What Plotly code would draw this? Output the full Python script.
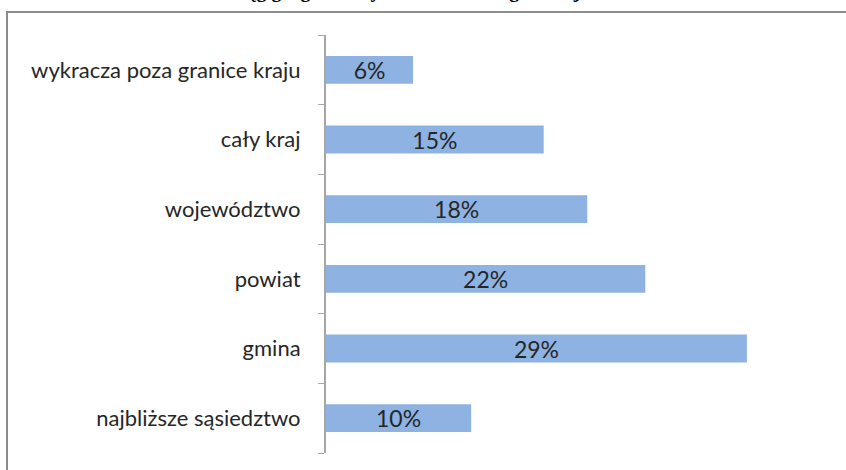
import plotly.graph_objects as go

categories = ["najbliższe sąsiedztwo", "gmina", "powiat", "województwo", "cały kraj", "wykracza poza granice kraju"]
values = [10, 29, 22, 18, 15, 6]
labels = ["10%", "29%", "22%", "18%", "15%", "6%"]
title_text = "Zasięg geograficzny działalności organizacji"

W, H = 846, 470
ML, MR, MT, MB = 326, 12, 35, 17
XMAX = 35
pw = W - ML - MR
ph = H - MT - MB

def px(x):
    return (x - ML) / pw

def py(y):
    return (H - MB - y) / ph

fig = go.Figure(go.Bar(
    x=values, y=categories, orientation="h",
    marker=dict(color="#8EB3E2", line=dict(width=0)),
    text=labels, textposition="inside", insidetextanchor="middle",
    constraintext="none",
    textfont=dict(family="Lato", size=23, color="#262626"),
    width=0.4, hoverinfo="skip",
))

fig.update_layout(
    width=W, height=H,
    margin=dict(l=ML, r=MR, t=MT, b=MB),
    paper_bgcolor="white", plot_bgcolor="white",
    showlegend=False,
    xaxis=dict(range=[0, XMAX], visible=False, fixedrange=True),
    yaxis=dict(
        type="category", categoryorder="array", categoryarray=categories,
        showline=True, linecolor="#A6A6A6", linewidth=2,
        ticks="outside", tickson="boundaries", ticklen=6, tickcolor="#A6A6A6", tickwidth=1,
        tickfont=dict(family="Lato", size=22, color="#262626"),
        ticklabelstandoff=19, showgrid=False, zeroline=False, fixedrange=True,
    ),
    shapes=[dict(
        type="rect", xref="paper", yref="paper",
        x0=px(7), x1=px(W + 20), y0=py(H + 20), y1=py(12),
        line=dict(color="#8C8C8C", width=2), fillcolor="rgba(0,0,0,0)", layer="below",
    )],
    annotations=[dict(
        text="<b>" + title_text + "</b>", xref="paper", yref="paper",
        x=px(398), y=py(4.5), xanchor="center", yanchor="bottom", showarrow=False,
        font=dict(family="Liberation Serif", size=20, color="#000000"),
    )],
)

fig.write_html("out.html", config={"displayModeBar": False},
               post_script="document.body.style.margin='0';")
